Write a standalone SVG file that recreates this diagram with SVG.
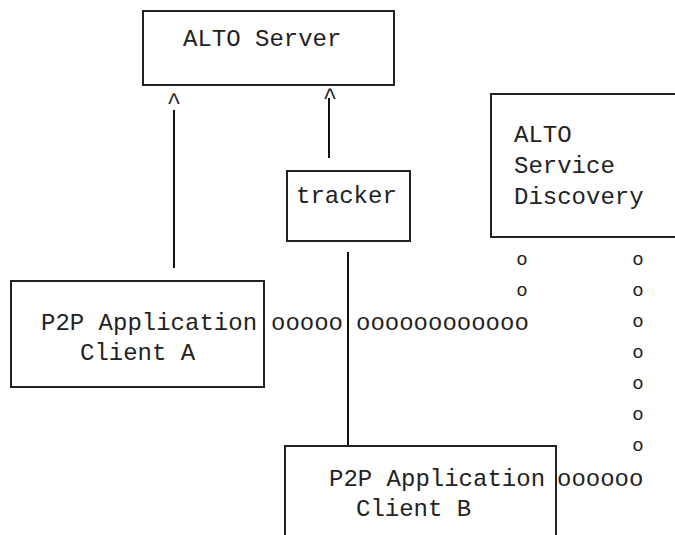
<svg xmlns="http://www.w3.org/2000/svg" width="675" height="535" viewBox="0 0 675 535">
<style>
.box{fill:#fff;stroke:#222;stroke-width:2}
.t{font-family:"Liberation Mono","DejaVu Sans Mono",monospace;font-size:24px;fill:#222}
.o{font-family:"Liberation Mono","DejaVu Sans Mono",monospace;font-size:19px;fill:#222;text-anchor:middle}
.ln{stroke:#111;stroke-width:2;fill:none}
</style>
<rect width="675" height="535" fill="#fff"/>
<g id="connectors">
<line class="ln" x1="174" y1="110" x2="174" y2="268"/>
<line class="ln" x1="329" y1="98" x2="329" y2="158"/>
<line class="ln" x1="348" y1="252" x2="348" y2="446"/>
<text class="t" x="174" y="109" text-anchor="middle">^</text>
<text class="t" x="330" y="104" text-anchor="middle">^</text>
<text class="t" x="271" y="330">ooooo</text>
<text class="t" x="356" y="330">oooooooooooo</text>
<text class="o" x="522" y="265">o</text>
<text class="o" x="522" y="296">o</text>
<text class="o" x="638" y="265">o</text>
<text class="o" x="638" y="296">o</text>
<text class="o" x="638" y="327">o</text>
<text class="o" x="638" y="358">o</text>
<text class="o" x="638" y="389">o</text>
<text class="o" x="638" y="420">o</text>
<text class="o" x="638" y="451">o</text>
<text class="t" x="557" y="486">oooooo</text>
</g>
<g id="alto-server">
<rect class="box" x="143" y="11" width="251" height="74"/>
<text class="t" x="183" y="46">ALTO Server</text>
</g>
<g id="tracker">
<rect class="box" x="287" y="171" width="123" height="70"/>
<text class="t" x="296" y="203">tracker</text>
</g>
<g id="alto-discovery">
<rect class="box" x="491" y="94" width="200" height="143"/>
<text class="t" x="514" y="142">ALTO</text>
<text class="t" x="514" y="173">Service</text>
<text class="t" x="514" y="204">Discovery</text>
</g>
<g id="client-a">
<rect class="box" x="11" y="281" width="253" height="106"/>
<text class="t" x="41" y="330">P2P Application</text>
<text class="t" x="80" y="360">Client A</text>
</g>
<g id="client-b">
<rect class="box" x="285" y="446" width="271" height="110"/>
<text class="t" x="329" y="486">P2P Application</text>
<text class="t" x="356" y="516">Client B</text>
</g>
</svg>
